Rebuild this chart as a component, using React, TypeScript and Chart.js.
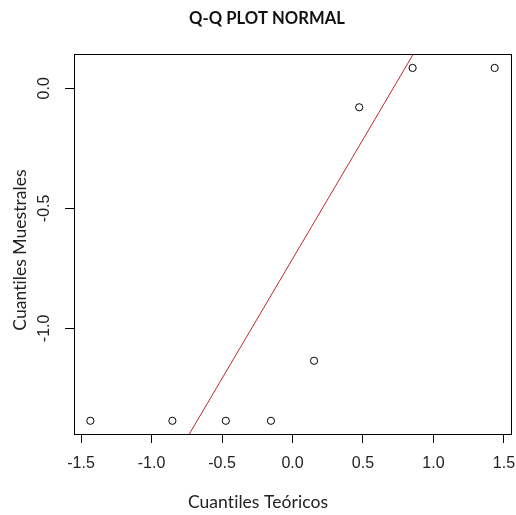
import React, { useEffect, useRef } from 'react';
import { Chart, registerables } from 'chart.js';

Chart.register(...registerables);

// ---- data ----
const theoretical = [-1.434, -0.852, -0.473, -0.153, 0.153, 0.473, 0.852, 1.434];
const sample = [-1.385, -1.385, -1.385, -1.385, -1.135, -0.079, 0.085, 0.085];
const lineIntercept = -0.711;
const lineSlope = 0.996;
const xTicks = [-1.5, -1.0, -0.5, 0.0, 0.5, 1.0, 1.5];
const yTicks = [-1.0, -0.5, 0.0];
const xRange = [-1.55, 1.55];
const yRange = [-1.44, 0.143];
const titleText = 'Q-Q PLOT NORMAL';
const xTitle = 'Cuantiles Teóricos';
const yTitle = 'Cuantiles Muestrales';

const W = 516;
const H = 515;
const labelFont = 'Lato, "Open Sans", sans-serif';

const rPlugin = {
  id: 'rstyle',
  afterDraw(chart: any) {
    const { ctx, chartArea: a, scales } = chart;
    ctx.save();
    // box
    ctx.strokeStyle = '#000';
    ctx.lineWidth = 1;
    ctx.strokeRect(Math.round(a.left) + 0.5, Math.round(a.top) + 0.5, Math.round(a.right - a.left), Math.round(a.bottom - a.top));
    // y tick labels (rotated like R)
    ctx.fillStyle = '#222';
    ctx.font = '16px "Liberation Sans", Arial, sans-serif';
    ctx.textAlign = 'center';
    ctx.textBaseline = 'middle';
    for (const v of yTicks) {
      const py = scales.y.getPixelForValue(v);
      ctx.save();
      ctx.translate(45, py);
      ctx.rotate(-Math.PI / 2);
      ctx.fillText(v.toFixed(1), 0, 0);
      ctx.restore();
    }
    // axis titles (no ligatures)
    try {
      (ctx as any).textRendering = 'optimizeSpeed';
      (ctx as any).letterSpacing = '0.05px';
    } catch (e) {}
    ctx.font = '17.5px ' + labelFont;
    ctx.fillStyle = '#222';
    ctx.fillText(xTitle, 258, 502);
    ctx.save();
    ctx.translate(20, 250);
    ctx.rotate(-Math.PI / 2);
    ctx.fillText(yTitle, 0, 0);
    ctx.restore();
    // main title
    ctx.fillStyle = '#111';
    ctx.font = 'bold 16.6px ' + labelFont;
    ctx.fillText(titleText, 267, 18.5);
    ctx.restore();
  },
};

export default function App() {
  const ref = useRef<HTMLCanvasElement>(null);
  useEffect(() => {
    document.body.style.margin = '0';
    const canvas = ref.current!;
    const chart = new Chart(canvas, {
      type: 'scatter',
      data: {
        datasets: [
          {
            label: 'qqline',
            type: 'line',
            data: xRange.map((x) => ({ x, y: lineIntercept + lineSlope * x })),
            borderColor: '#c0282d',
            borderWidth: 1,
            pointRadius: 0,
            fill: false,
            order: 2,
          },
          {
            label: 'sample',
            data: theoretical.map((x, i) => ({ x, y: sample[i] })),
            pointStyle: 'circle',
            pointRadius: 3.6,
            pointBorderWidth: 1,
            pointBorderColor: '#000',
            pointBackgroundColor: 'rgba(0,0,0,0)',
            borderColor: '#000',
            backgroundColor: 'rgba(0,0,0,0)',
            order: 1,
          } as any,
        ],
      },
      options: {
        responsive: false,
        animation: false,
        events: [],
        layout: { padding: { top: 54, right: 4, left: 0, bottom: 0 } },
        plugins: {
          legend: { display: false },
          tooltip: { enabled: false },
          title: { display: false },
        },
        scales: {
          x: {
            type: 'linear',
            min: xRange[0],
            max: xRange[1],
            afterBuildTicks: (s: any) => {
              s.ticks = xTicks.map((value) => ({ value }));
            },
            afterFit: (s: any) => {
              s.height = H - 434;
              s.paddingLeft = 0;
              s.paddingRight = 0;
            },
            grid: { drawOnChartArea: false, drawTicks: true, tickLength: 9, color: '#000', lineWidth: 1 },
            border: { display: false },
            ticks: {
              color: '#222',
              padding: 11,
              maxRotation: 0,
              autoSkip: false,
              font: { family: '"Liberation Sans", Arial, sans-serif', size: 16 },
              callback: (v: any) => Number(v).toFixed(1),
            },
            title: { display: false },
          },
          y: {
            type: 'linear',
            min: yRange[0],
            max: yRange[1],
            afterBuildTicks: (s: any) => {
              s.ticks = yTicks.map((value) => ({ value }));
            },
            afterFit: (s: any) => {
              s.width = 74;
              s.paddingTop = 0;
              s.paddingBottom = 0;
            },
            grid: { drawOnChartArea: false, drawTicks: true, tickLength: 9, color: '#000', lineWidth: 1 },
            border: { display: false },
            ticks: { display: false },
            title: { display: false },
          },
        },
      },
      plugins: [rPlugin],
    });
    return () => chart.destroy();
  }, []);
  return <canvas ref={ref} width={W} height={H} style={{ display: 'block' }} />;
}
